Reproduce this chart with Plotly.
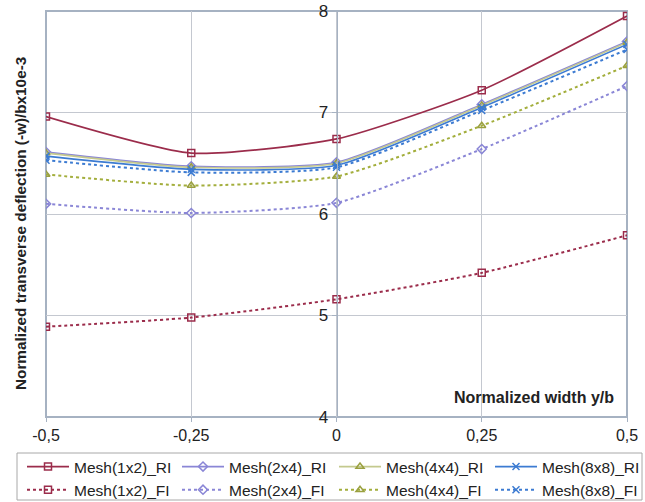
import plotly.graph_objects as go

x_vals = [-0.5, -0.25, 0, 0.25, 0.5]
x_labels = ["-0,5", "-0,25", "0", "0,25", "0,5"]
y_ticks = [4, 5, 6, 7, 8]

mesh1x2_ri = [6.96, 6.60, 6.74, 7.22, 7.95]
mesh2x4_ri = [6.61, 6.47, 6.51, 7.08, 7.70]
mesh4x4_ri = [6.60, 6.46, 6.50, 7.07, 7.69]
mesh8x8_ri = [6.57, 6.44, 6.48, 7.05, 7.67]
mesh1x2_fi = [4.89, 4.98, 5.16, 5.42, 5.79]
mesh2x4_fi = [6.10, 6.01, 6.11, 6.64, 7.26]
mesh4x4_fi = [6.39, 6.28, 6.37, 6.87, 7.46]
mesh8x8_fi = [6.53, 6.41, 6.46, 7.02, 7.62]

series = [
    ("Mesh(1x2)_RI", mesh1x2_ri, "#9B2C4B", "#9B2C4B", "square-open", "solid", "legend"),
    ("Mesh(2x4)_RI", mesh2x4_ri, "#8A86D6", "#8A86D6", "diamond-open", "solid", "legend2"),
    ("Mesh(4x4)_RI", mesh4x4_ri, "#C4C98E", "#9AA040", "triangle-up-open", "solid", "legend3"),
    ("Mesh(8x8)_RI", mesh8x8_ri, "#3C7BD2", "#3C7BD2", "x-thin-open", "solid", "legend4"),
    ("Mesh(1x2)_FI", mesh1x2_fi, "#9B2C4B", "#9B2C4B", "square-open", "dot", "legend"),
    ("Mesh(2x4)_FI", mesh2x4_fi, "#8A86D6", "#8A86D6", "diamond-open", "dot", "legend2"),
    ("Mesh(4x4)_FI", mesh4x4_fi, "#A3AE3C", "#9AA040", "triangle-up-open", "dot", "legend3"),
    ("Mesh(8x8)_FI", mesh8x8_fi, "#3C7BD2", "#3C7BD2", "x-thin-open", "dot", "legend4"),
]

fig = go.Figure()
for name, vals, lc, mc, sym, dash, lg in series:
    fig.add_trace(go.Scatter(
        x=x_vals, y=vals, name=name, mode="lines+markers", legend=lg, legendgroup=name,
        line=dict(color=lc, width=1.6 if dash == "solid" else 2, dash=dash, shape="spline", smoothing=0.6),
        marker=dict(symbol=sym, size=7, color=mc, line=dict(color=mc, width=1.5)),
    ))

font_family = "Liberation Sans, Arial, sans-serif"

W, H = 645, 502
L, R, T, B = 46, 18, 11, 85
pw, ph = W - L - R, H - T - B


def px_x(px):
    return (px - L) / pw


def px_y(py):
    return (H - B - py) / ph


def legend_at(left_px):
    return dict(
        orientation="v", xref="container", yref="container",
        x=left_px / W, xanchor="left", y=1 - 450 / H, yanchor="top",
        borderwidth=0, bgcolor="rgba(0,0,0,0)", itemwidth=42,
        tracegroupgap=3,
        font=dict(size=15.5, family=font_family, color="#222222"),
        traceorder="normal",
    )


fig.update_layout(
    width=W, height=H,
    margin=dict(l=L, r=R, t=T, b=B, autoexpand=False),
    paper_bgcolor="white", plot_bgcolor="white",
    font=dict(family=font_family, size=14, color="#222222"),
    showlegend=True,
    legend=legend_at(22),
    legend2=legend_at(177),
    legend3=legend_at(334),
    legend4=legend_at(490),
    xaxis=dict(
        range=[-0.5, 0.5], tickvals=x_vals, ticktext=x_labels,
        showgrid=True, gridcolor="#C4C8D0", gridwidth=1,
        zeroline=False, showline=False, automargin=False,
        ticks="outside", ticklen=4, tickcolor="#A6B2C2",
        tickfont=dict(size=16, family=font_family, color="#222222"),
    ),
    yaxis=dict(
        range=[4, 8], tickvals=y_ticks, ticktext=[str(v) for v in y_ticks],
        showgrid=True, gridcolor="#C4C8D0", gridwidth=1,
        zeroline=False, showline=True, linecolor="#A6B2C2", linewidth=1,
        anchor="free", position=0.5, automargin=False,
        ticks="outside", ticklen=5, tickcolor="#A6B2C2",
        tickfont=dict(size=17, family=font_family, color="#222222"),
    ),
    shapes=[
        dict(type="rect", xref="x domain", yref="y domain", x0=0, x1=1, y0=0, y1=1,
             line=dict(color="#A6B2C2", width=2), layer="below"),
        dict(type="rect", xref="paper", yref="paper",
             x0=px_x(17), x1=px_x(642), y0=px_y(500), y1=px_y(453),
             line=dict(color="#A8A8A8", width=1), fillcolor="rgba(0,0,0,0)"),
    ],
    annotations=[
        dict(text="<b>Normalized transverse deflection (-w)/bx10e-3</b>", xref="paper", yref="paper",
             x=px_x(20), y=px_y(224), xanchor="center", yanchor="middle", textangle=-90,
             showarrow=False, font=dict(size=15.3, family=font_family, color="#222222")),
        dict(text="<b>Normalized width y/b</b>", xref="paper", yref="paper",
             x=px_x(616), y=px_y(397), xanchor="right", yanchor="middle",
             showarrow=False, font=dict(size=16, family=font_family, color="#222222")),
    ],
)

fig.write_html("out.html", config={"displayModeBar": False},
               post_script="document.body.style.margin='0';")
